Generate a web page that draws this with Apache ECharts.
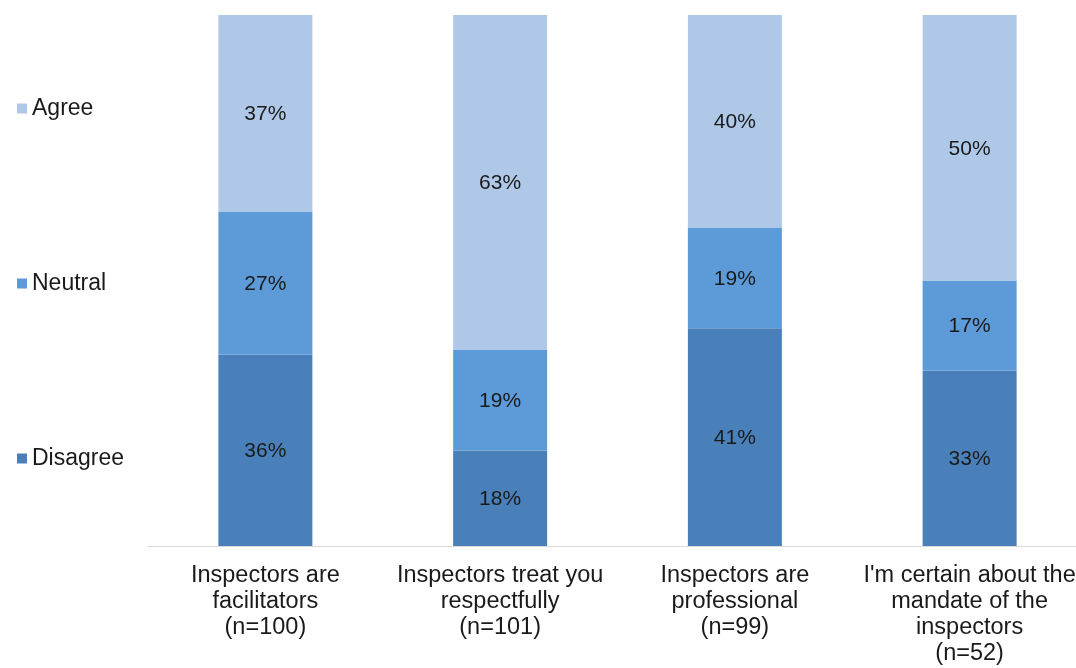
<!DOCTYPE html>
<html>
<head>
<meta charset="utf-8">
<script src="https://cdn.jsdelivr.net/npm/echarts@6/dist/echarts.min.js"></script>
<style>
  html, body { margin: 0; padding: 0; background: #ffffff; overflow: hidden; }
  /* the last category band runs a little past the right edge of the page */
  #chart { width: 1087px; height: 668px; }
</style>
</head>
<body>
<div id="chart"></div>
<script>
// Survey statements with sample sizes
const categories = [
  'Inspectors are\nfacilitators\n(n=100)',
  'Inspectors treat you\nrespectfully\n(n=101)',
  'Inspectors are\nprofessional\n(n=99)',
  "I'm certain about the\nmandate of the\ninspectors\n(n=52)"
];
// Share of respondents per answer (%)
const disagree = [36, 18, 41, 33];
const neutral = [27, 19, 19, 17];
const agree = [37, 63, 40, 50];

const FONT = '"Liberation Sans", Arial, sans-serif';
const TEXT = '#1a1a1a';

const labelStyle = {
  show: true,
  position: 'inside',
  formatter: '{c}%',
  color: TEXT,
  fontFamily: FONT,
  fontSize: 21,
  offset: [0, 1]
};

function stackSeries(name, data, color) {
  return {
    name: name,
    type: 'bar',
    stack: 'total',
    barWidth: 94,
    data: data,
    itemStyle: { color: color },
    label: labelStyle,
    emphasis: { disabled: true }
  };
}

const chart = echarts.init(document.getElementById('chart'), null, { renderer: 'canvas' });
chart.setOption({
  animation: false,
  backgroundColor: '#ffffff',
  legend: {
    orient: 'vertical',
    left: 12,
    top: 92,
    itemGap: 152,
    itemWidth: 10,
    itemHeight: 10,
    icon: 'rect',
    data: ['Agree', 'Neutral', 'Disagree'],
    textStyle: { color: TEXT, fontFamily: FONT, fontSize: 23, lineHeight: 22 }
  },
  grid: { left: 148, top: 15, right: 0, bottom: 122, containLabel: false },
  xAxis: {
    type: 'category',
    data: categories,
    axisLine: { lineStyle: { color: '#d9d9d9', width: 1 } },
    axisTick: { show: false },
    axisLabel: {
      interval: 0,
      margin: 17,
      color: TEXT,
      fontFamily: FONT,
      fontSize: 23.5,
      lineHeight: 26,
      align: 'center'
    }
  },
  yAxis: {
    type: 'value',
    min: 0,
    max: 100,
    show: false,
    splitLine: { show: false }
  },
  series: [
    stackSeries('Disagree', disagree, '#4a80ba'),
    stackSeries('Neutral', neutral, '#5c9bd7'),
    stackSeries('Agree', agree, '#b0c8e8')
  ]
});
</script>
</body>
</html>
